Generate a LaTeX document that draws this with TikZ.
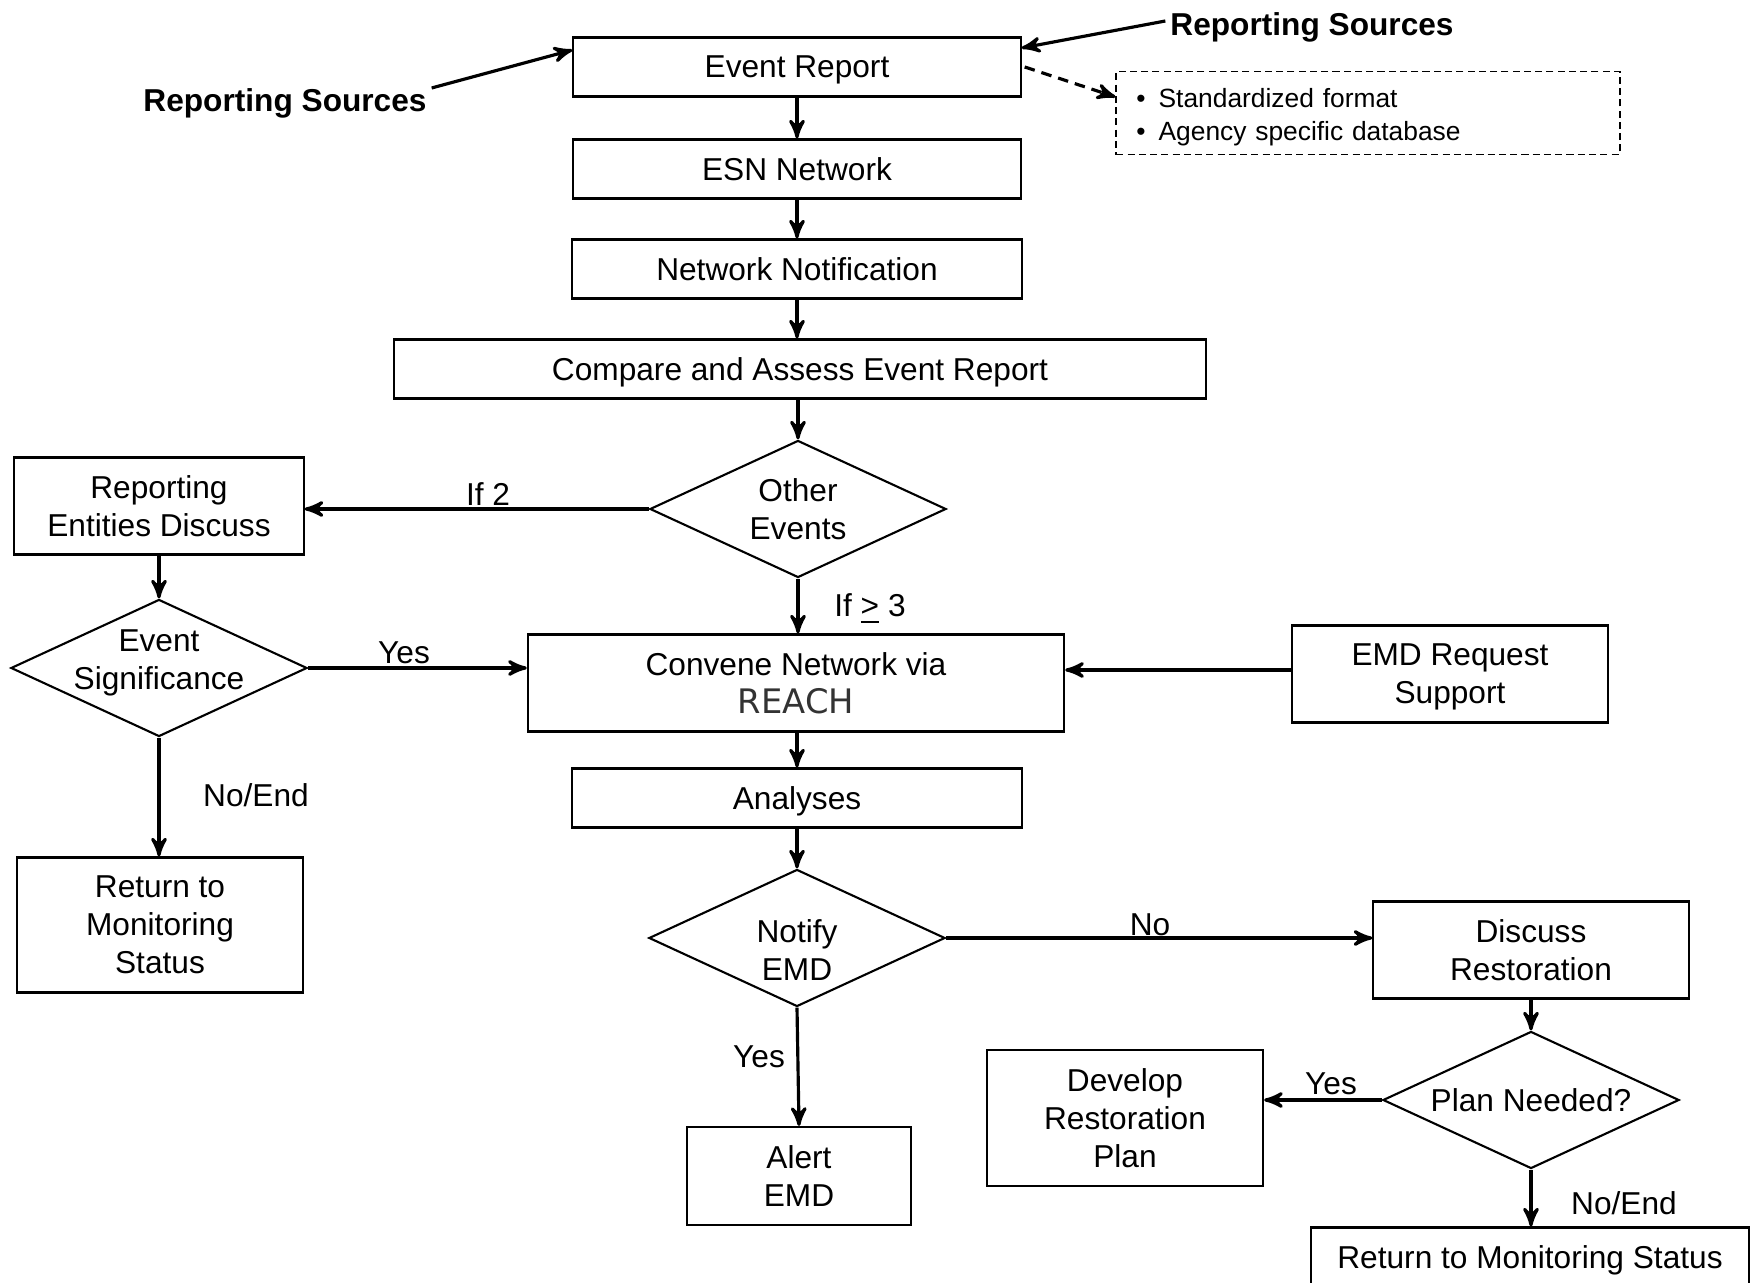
\documentclass[tikz,border=0pt]{standalone}
\usepackage{fontspec}
\setmainfont{Liberation Sans}
\newfontfamily\reachfont{DejaVu Sans}
\usetikzlibrary{arrows,calc,shapes.geometric}

\begin{document}
\begin{tikzpicture}[x=0.01cm,y=-0.01cm,->,>=stealth',line width=0.9pt,
      font=\fontsize{9}{10.8}\selectfont,
      box/.style={rectangle,draw,line width=0.6pt,align=center,inner sep=0pt,
        minimum height=0.59cm,text depth=0pt},
      dec/.style={diamond,draw,line width=0.6pt,align=center,inner sep=-0.1cm,aspect=2.16,
        minimum width=2.96cm,minimum height=1.37cm},
      lbl/.style={inner sep=0pt,align=center},
      src/.style={font=\fontsize{9}{10.8}\selectfont\bfseries,inner sep=1pt}]
      \useasboundingbox (0,0) rectangle (1751,1283);

      % main column
      \node[box,minimum width=4.47cm] (er)  at (797,67)  {Event Report};
      \node[box,minimum width=4.47cm] (esn) at (797,169) {ESN Network};
      \node[box,minimum width=4.49cm] (nn)  at (797,269) {Network Notification};
      \node[box,minimum width=8.11cm] (cmp) at (800,369) {Compare and Assess Event Report};
      \node[dec] (oe)  at (798,509) {Other\\Events};
      \node[box,minimum width=5.36cm,minimum height=0.97cm] (cnv) at (796,683)
        {Convene Network via\\{\reachfont\fontsize{9.6}{10.8}\selectfont\color{black!80}REACH}};
      \node[box,minimum width=4.49cm] (an)  at (797,798) {Analyses};
      \node[dec] (ne)  at (797,938) {};
      \node[lbl] (ne_txt) at (797,950) {Notify\\EMD};
      \node[box,minimum width=2.24cm,minimum height=0.98cm] (ae) at (799,1176) {Alert\\EMD};

      % left branch
      \node[box,minimum width=2.89cm,minimum height=0.97cm] (red) at (159,506) {Reporting\\Entities Discuss};
      \node[dec] (es)  at (159,668) {};
      \node[lbl] (es_txt) at (159,663) {Event\\Significance};
      \node[box,minimum width=2.86cm,minimum height=1.35cm] (rml) at (160,925) {Return to\\Monitoring\\Status};

      % right branch
      \node[box,minimum width=3.16cm,minimum height=0.97cm] (emd) at (1450,674) {EMD Request\\Support};
      \node[box,minimum width=3.15cm,minimum height=0.97cm] (dr)  at (1531,950) {Discuss\\Restoration};
      \node[dec] (pn)  at (1531,1100) {Plan Needed?};
      \node[box,minimum width=2.76cm,minimum height=1.36cm] (drp) at (1125,1118) {Develop\\Restoration\\Plan};
      \node[box,minimum width=4.38cm] (rmb) at (1530,1257) {Return to Monitoring Status};

      % sources and format note
      \node[src] (rsl) at (285,103) {Reporting Sources};
      \node[src] (rsr) at (1312,27) {Reporting Sources};
      \node[draw,line width=0.5pt,dash pattern=on 2pt off 1.2pt,inner sep=0pt,
        minimum width=5.03cm,minimum height=0.83cm] (fmt) at (1368,113) {};
      \node[lbl,text width=4.63cm,align=left,font=\fontsize{7.5}{9.4}\selectfont]
        (fmt_txt) at (1368,117) {\textbullet\hspace{0.13cm}Standardized format\\
        \textbullet\hspace{0.13cm}Agency specific database};

      % labels
      \node[lbl] (l_if2)  at (488,494)   {If 2};
      \node[lbl] (l_if3)  at (870,609)   {If \underline{>} 3};
      \node[lbl] (l_yes1) at (404,653)   {Yes};
      \node[lbl] (l_end1) at (256,795)   {No/End};
      \node[lbl] (l_no)   at (1150,925)  {No};
      \node[lbl] (l_yes2) at (759,1057)  {Yes};
      \node[lbl] (l_yes3) at (1331,1084) {Yes};
      \node[lbl] (l_end2) at (1624,1203) {No/End};

      \path
      ([yshift=0.15cm]rsl.east) edge ([yshift=0.17cm]er.west)
      ([yshift=0.06cm]rsr.west) edge ([yshift=0.19cm]er.east)
      ([xshift=0.03cm]er.east)  edge [dash pattern=on 3pt off 2pt] ([yshift=0.16cm]fmt.west)

      (er)  edge (esn)
      (esn) edge (nn)
      (nn.south) edge (nn.south |- cmp.north)
      (cmp.south -| oe.north) edge (oe.north)
      (oe.west)  edge (oe.west -| red.east)
      (oe.south) edge (oe.south |- cnv.north)
      (red) edge (es)
      (es.east)  edge (es.east -| cnv.west)
      (es.south) edge (es.south |- rml.north)
      (emd.west |- 0,670) edge (cnv.east |- 0,670)
      (cnv.south -| an.north) edge (an.north)
      (an) edge (ne)
      (ne.east)  edge (ne.east -| dr.west)
      (ne.south) edge (ae.north)
      (dr) edge (pn)
      (pn.west)  edge (pn.west -| drp.east)
      (pn.south) edge (pn.south |- rmb.north)
      ;
\end{tikzpicture}
\end{document}
